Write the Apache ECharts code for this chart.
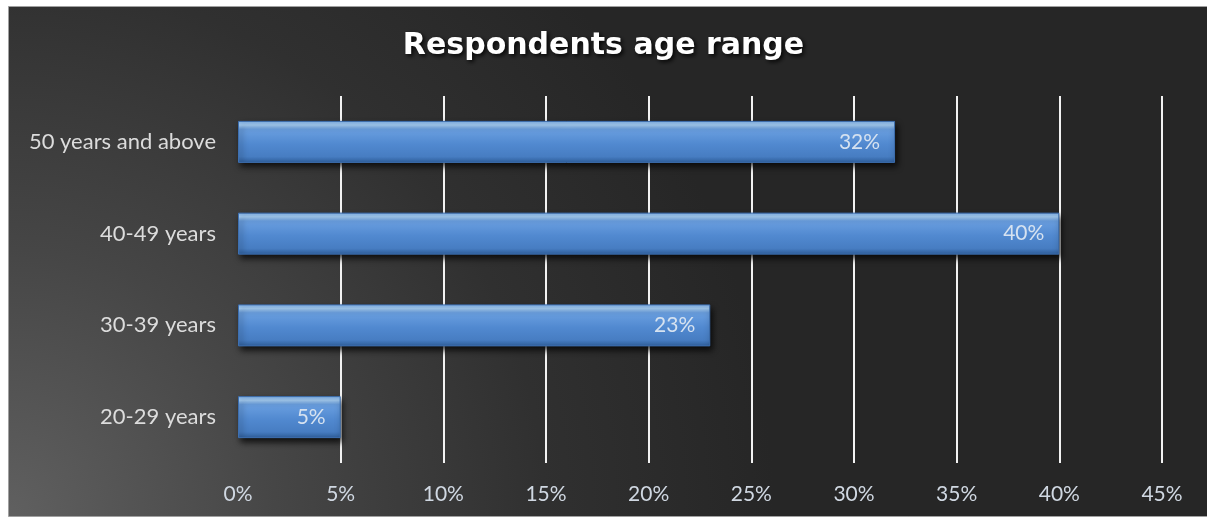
<!DOCTYPE html>
<html>
<head>
<meta charset="utf-8">
<script src="https://cdn.jsdelivr.net/npm/echarts@6/dist/echarts.min.js"></script>
<style>
html,body{margin:0;padding:0;background:#ffffff;}
#chart{width:1207px;height:521px;}
</style>
</head>
<body>
<div id="chart"></div>
<script>
const titleText = 'Respondents age range';
const categories = ['20-29 years', '30-39 years', '40-49 years', '50 years and above'];
const values = [5, 23, 40, 32];
const xMin = 0, xMax = 45, xInterval = 5;

const chart = echarts.init(document.getElementById('chart'), null, {renderer: 'canvas'});
const option = {
  backgroundColor: '#ffffff',
  graphic: [{
    type: 'rect',
    z: -10,
    silent: true,
    shape: {x: 8.5, y: 6.5, width: 1200, height: 510},
    style: {
      fill: {
        type: 'radial', x: 0, y: 1, r: 1.5,
        colorStops: [
          {offset: 0, color: '#606060'},
          {offset: 0.35, color: '#464646'},
          {offset: 0.7, color: '#303030'},
          {offset: 1, color: '#262626'}
        ]
      },
      stroke: '#a0a0a0',
      lineWidth: 1
    }
  }],
  title: {
    text: titleText,
    left: 'center',
    top: 26,
    textStyle: {
      fontFamily: 'DejaVu Sans',
      fontWeight: 'bold',
      fontSize: 30,
      color: '#ffffff',
      textShadowColor: 'rgba(0,0,0,0.9)',
      textShadowBlur: 4,
      textShadowOffsetX: 2,
      textShadowOffsetY: 2
    }
  },
  grid: {left: 238, right: 45, top: 96, bottom: 58, containLabel: false},
  xAxis: {
    type: 'value',
    min: xMin, max: xMax, interval: xInterval,
    axisLine: {show: false},
    axisTick: {show: false},
    splitLine: {show: true, showMinLine: false, lineStyle: {color: '#f2f2f2', width: 2}},
    axisLabel: {
      formatter: '{value}%',
      margin: 21,
      fontFamily: 'Lato',
      fontSize: 21,
      color: '#d0d8e2'
    }
  },
  yAxis: {
    type: 'category',
    data: categories,
    axisLine: {show: false},
    axisTick: {show: false},
    splitLine: {show: false},
    axisLabel: {
      margin: 22,
      fontFamily: 'Lato',
      fontSize: 22,
      color: '#dcdcdc'
    }
  },
  series: [{
    type: 'bar',
    data: values,
    barWidth: 42,
    itemStyle: {
      color: {
        type: 'linear', x: 0, y: 0, x2: 0, y2: 1,
        colorStops: [
          {offset: 0, color: '#7fb0e8'},
          {offset: 0.1, color: '#a8d2fa'},
          {offset: 0.2, color: '#6a9fe0'},
          {offset: 0.55, color: '#5189d0'},
          {offset: 0.85, color: '#477dc2'},
          {offset: 1, color: '#2f5f9c'}
        ]
      },
      borderColor: '#3d6fb0',
      borderWidth: 1,
      shadowColor: 'rgba(0,0,0,0.75)',
      shadowBlur: 6,
      shadowOffsetX: 2,
      shadowOffsetY: 4
    },
    label: {
      show: true,
      position: 'insideRight',
      distance: 15,
      formatter: '{c}%',
      fontFamily: 'Lato',
      fontSize: 21,
      color: '#d6e2f0'
    }
  }]
};
chart.setOption(option);
</script>
</body>
</html>
